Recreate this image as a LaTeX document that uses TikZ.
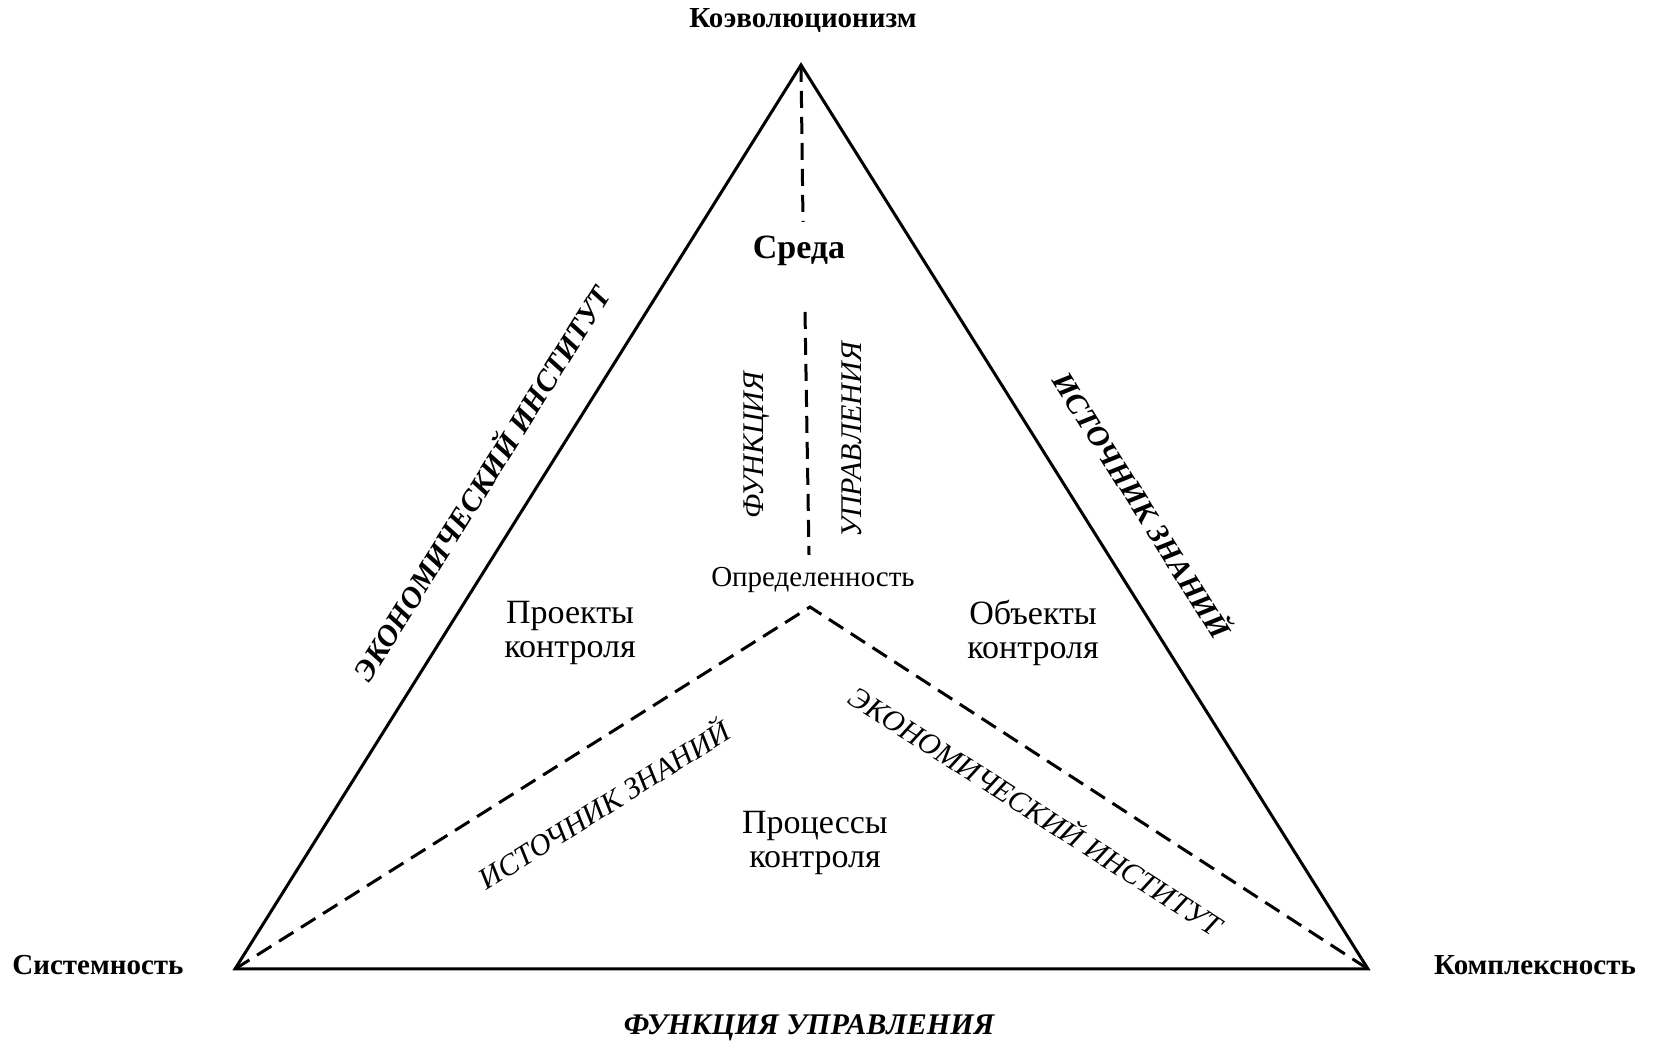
\documentclass[tikz,border=0pt]{standalone}
\usepackage{fontspec}
\setmainfont{Liberation Serif}
\usepackage{tikz}

\begin{document}
\begin{tikzpicture}[x=1pt, y=1pt, every text node part/.style={align=center},
  edge/.style={line width=3pt},
  dashedge/.style={line width=3pt, dash pattern=on 17pt off 9pt},
  pole/.style={font=\fontsize{29}{34}\selectfont\bfseries},
  area/.style={font=\fontsize{34}{34}\selectfont, inner sep=0pt},
  sidelabel/.style={font=\fontsize{30}{34}\selectfont\bfseries\itshape, inner sep=0pt},
  innerlabel/.style={font=\fontsize{30}{34}\selectfont\itshape, inner sep=0pt}]
\useasboundingbox (0,0) rectangle (1653,1043);

\coordinate (apex) at (801,978);
\coordinate (left) at (235,74);
\coordinate (right) at (1368,74);
\coordinate (centre) at (810,436);
\coordinate (upperend) at (803,821);
\coordinate (lowtop) at (805,731);
\coordinate (lowbot) at (809,488);

\draw [edge] (left) -- (apex) -- (right) -- cycle;
\draw [dashedge] (apex) -- (upperend);
\draw [dashedge] (lowtop) -- (lowbot);
\draw [dashedge] (left) -- (centre) -- (right);

\node [pole] (koev) at (803,1022) {Коэволюционизм};
\node [pole] (sist) at (98,78) {Системность};
\node [pole] (kompl) at (1535,78) {Комплексность};
\node [font=\fontsize{34}{34}\selectfont\bfseries] (sreda) at (799,792) {Среда};
\node [font=\fontsize{29}{34}\selectfont, inner sep=0pt] (opred) at (813,463) {Определенность};

\node [area] (proekty) at (570,410) {Проекты\\контроля};
\node [area] (obekty) at (1033,410) {Объекты\\контроля};
\node [area] (processy) at (815,200) {Процессы\\контроля};

\node [sidelabel, rotate=58] (ekleft) at (480,561) {ЭКОНОМИЧЕСКИЙ ИНСТИТУТ};
\node [sidelabel, rotate=-58] (istright) at (1144,539) {ИСТОЧНИК ЗНАНИЙ};
\node [sidelabel] (funkbot) at (809,15) {ФУНКЦИЯ УПРАВЛЕНИЯ};

\node [innerlabel, rotate=90] (funk) at (757,598) {ФУНКЦИЯ};
\node [innerlabel, rotate=90] (uprav) at (852,603) {УПРАВЛЕНИЯ};
\node [innerlabel, rotate=32] (istlow) at (603,240) {ИСТОЧНИК ЗНАНИЙ};
\node [innerlabel, rotate=-32.6] (eklow) at (1037,234) {ЭКОНОМИЧЕСКИЙ ИНСТИТУТ};
\end{tikzpicture}
\end{document}
